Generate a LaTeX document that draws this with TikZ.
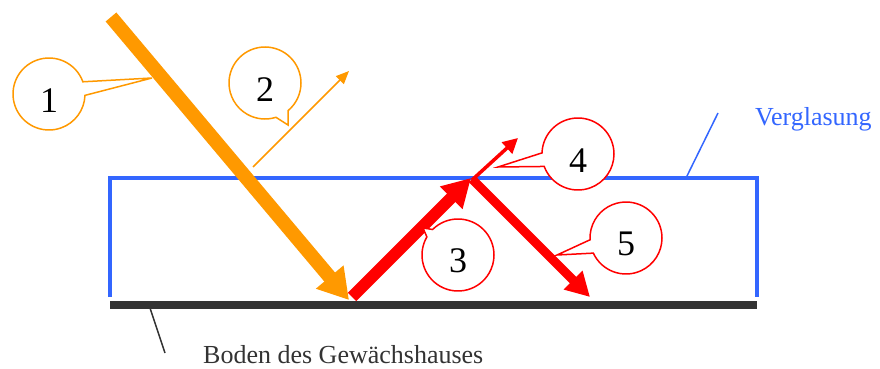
\documentclass[tikz,border=0pt]{standalone}
\usepackage{fontspec}
\setmainfont{Liberation Serif}
\usetikzlibrary{arrows.meta,shapes.callouts}
\definecolor{sunorange}{HTML}{FF9900}
\definecolor{heatred}{HTML}{FF0000}
\definecolor{glassblue}{HTML}{3366FF}
\definecolor{floorgray}{HTML}{333333}
\tikzset{
  glass/.style={draw=glassblue, line width=3.5pt},
  floorline/.style={draw=floorgray, line width=8pt},
  leader/.style={line width=1.5pt},
  bubble/.style={ellipse callout, draw, fill=white, line width=1.5pt,
    minimum width=72pt, minimum height=72pt, inner sep=0pt,
    callout pointer arc=22, text height=36pt,
    font=\fontsize{36}{40}\selectfont, text=black},
  labeltext/.style={font=\fontsize{26}{30}\selectfont, inner sep=0pt}
}
\begin{document}
\begin{tikzpicture}[x=1pt,y=1pt]
\useasboundingbox (0,0) rectangle (880,368);
% glazing box
\coordinate (bl) at (110,71);
\coordinate (tl) at (110,190);
\coordinate (tr) at (757,190);
\coordinate (br) at (757,71);
\draw[glass] (bl) -- (tl) -- (tr) -- (br);
% floor
\coordinate (fl) at (110,63);
\coordinate (fr) at (757,63);
\draw[floorline] (fl) -- (fr);
% labels
\coordinate (gA) at (686,190);
\coordinate (gB) at (718,255);
\draw[glassblue, leader] (gA) -- (gB);
\node[labeltext, text=glassblue, anchor=base west] (verg) at (755,243) {Verglasung};
\coordinate (bA) at (150,60);
\coordinate (bB) at (165,15);
\draw[floorgray, leader] (bA) -- (bB);
\node[labeltext, text=floorgray, anchor=base west] (boden) at (203,5) {Boden des Gewächshauses};
% arrows
\coordinate (o1s) at (111,351);
\coordinate (o1e) at (349,68);
\draw[sunorange, line width=14pt, -{Triangle[length=30pt,width=34pt]}] (o1s) -- (o1e);
\coordinate (o2s) at (253,201);
\coordinate (o2e) at (349,297);
\draw[sunorange, line width=1.5pt, -{Triangle[length=13pt,width=11pt]}] (o2s) -- (o2e);
\coordinate (r3s) at (352,71);
\coordinate (r3e) at (471,190);
\draw[heatred, line width=12pt, -{Triangle[length=28pt,width=30pt]}] (r3s) -- (r3e);
\coordinate (r4s) at (472,188);
\coordinate (r4e) at (518,230);
\draw[heatred, line width=3.5pt, -{Triangle[length=15pt,width=15pt]}] (r4s) -- (r4e);
\coordinate (r5s) at (472,189);
\coordinate (r5e) at (590,71);
\draw[heatred, line width=9pt, -{Triangle[length=24pt,width=25pt]}] (r5s) -- (r5e);
% callouts
\node[bubble, draw=sunorange, callout absolute pointer={(152,290)}] (c1) at (49,274) {1};
\node[bubble, draw=sunorange, callout absolute pointer={(288,243)}] (c2) at (265,285) {2};
\node[bubble, draw=heatred, callout pointer arc=15, callout absolute pointer={(423,140)}] (c3) at (458,113) {3};
\node[bubble, draw=heatred, callout absolute pointer={(498,201)}] (c4) at (578,214) {4};
\node[bubble, draw=heatred, callout absolute pointer={(557,113)}] (c5) at (626,130) {5};
\end{tikzpicture}
\end{document}
